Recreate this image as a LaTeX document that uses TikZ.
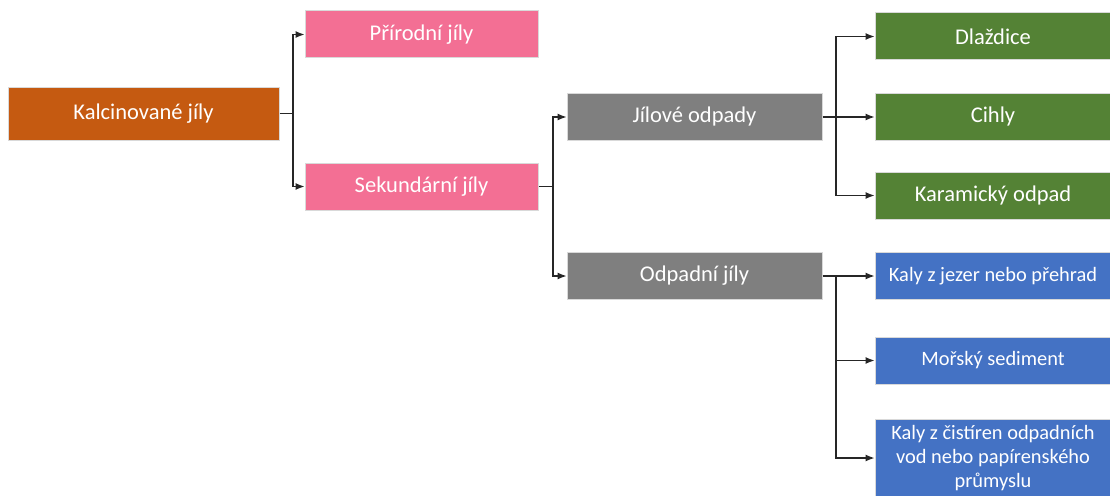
\documentclass[tikz,border=0pt]{standalone}
\usepackage{fontspec}
\setmainfont{Carlito}
\usetikzlibrary{arrows.meta}
\definecolor{corange}{HTML}{C55A11}
\definecolor{cpink}{HTML}{F36F94}
\definecolor{cgray}{HTML}{7F7F7F}
\definecolor{cgreen}{HTML}{548235}
\definecolor{cblue}{HTML}{4472C4}
\definecolor{cedge}{HTML}{D9D9D9}
\definecolor{cline}{HTML}{262626}
\tikzset{
  box/.style={draw=cedge, line width=1pt, text=white, align=center, inner sep=0pt,
    font=\fontsize{22.5}{25}\selectfont},
  smallbox/.style={box, font=\fontsize{20.4}{24}\selectfont},
  conn/.style={draw=cline, line width=1.2pt, -{Latex[length=9pt,width=7pt]}},
  stem/.style={draw=cline, line width=1.2pt}
}
\begin{document}
\begin{tikzpicture}[x=1pt,y=-1pt]
\useasboundingbox (0,0) rectangle (1110,495);
\node[box, fill=corange, minimum width=271pt, minimum height=53pt] (kal) at (143.5,113.5) {Kalcinované jíly};
\node[box, fill=cpink, minimum width=233pt, minimum height=47pt] (pri) at (421.5,34.5) {Přírodní jíly};
\node[box, fill=cpink, minimum width=233pt, minimum height=47pt] (sek) at (421.5,186.5) {Sekundární jíly};
\node[box, fill=cgray, minimum width=255pt, minimum height=47pt] (jil) at (694.5,117) {Jílové odpady};
\node[box, fill=cgray, minimum width=255pt, minimum height=47pt] (odp) at (694.5,276) {Odpadní jíly};
\node[box, fill=cgreen, minimum width=236pt, minimum height=47pt] (dla) at (993,36.5) {Dlaždice};
\node[box, fill=cgreen, minimum width=236pt, minimum height=47pt] (cih) at (993,117) {Cihly};
\node[box, fill=cgreen, minimum width=236pt, minimum height=47pt] (kar) at (993,195.5) {Karamický odpad};
\node[smallbox, fill=cblue, minimum width=236pt, minimum height=47pt] (jez) at (993,276) {Kaly z jezer nebo přehrad};
\node[smallbox, fill=cblue, minimum width=236pt, minimum height=47pt] (mor) at (993,360.5) {Mořský sediment};
\node[smallbox, fill=cblue, minimum width=236pt, minimum height=78pt] (cis) at (993,458) {Kaly z čistíren odpadních\\vod nebo papírenského\\průmyslu};
\coordinate (s1) at (293,113.5);
\coordinate (s2) at (553,186.5);
\coordinate (s3) at (836,117);
\coordinate (s4) at (836,276);
\draw[stem] (kal.east) -- (s1);
\draw[conn] (s1) |- (pri.west);
\draw[conn] (s1) |- (sek.west);
\draw[stem] (sek.east) -- (s2);
\draw[conn] (s2) |- (jil.west);
\draw[conn] (s2) |- (odp.west);
\draw[conn] (jil.east) -- (cih.west);
\draw[conn] (s3) |- (dla.west);
\draw[conn] (s3) |- (kar.west);
\draw[conn] (odp.east) -- (jez.west);
\draw[conn] (s4) |- (mor.west);
\draw[conn] (s4) |- (cis.west);
\end{tikzpicture}
\end{document}
